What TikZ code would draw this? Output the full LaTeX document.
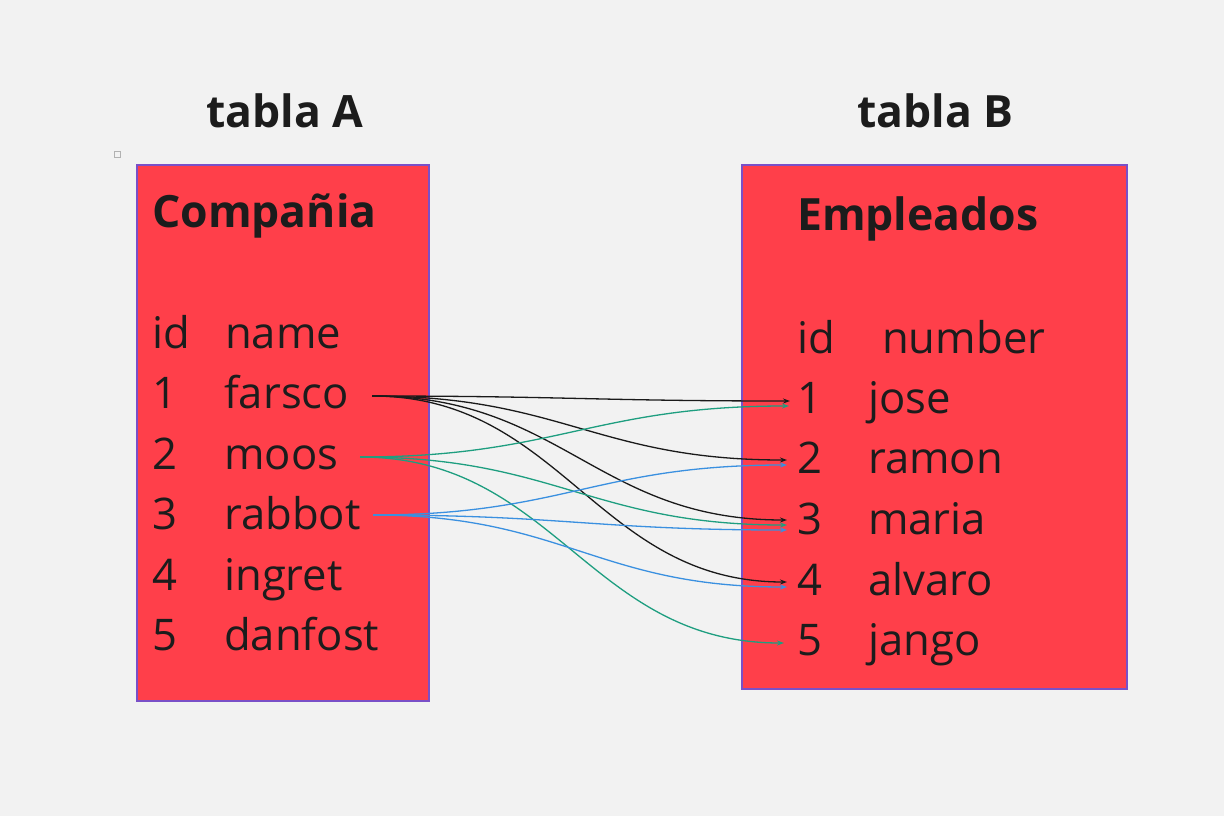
\documentclass[tikz,border=0pt]{standalone}
\usepackage{fontspec}
\setmainfont{Open Sans}
\usetikzlibrary{arrows.meta}
\definecolor{bg}{HTML}{F2F2F2}
\definecolor{boxred}{HTML}{FF3F4A}
\definecolor{boxedge}{HTML}{7A50C8}
\definecolor{ink}{HTML}{1C1C1C}
\definecolor{lnblack}{HTML}{1A1A1A}
\definecolor{lngreen}{HTML}{1E9E80}
\definecolor{lnblue}{HTML}{3A90E0}
\tikzset{
  tbox/.style={draw=boxedge, line width=1.3pt, fill=boxred},
  title/.style={anchor=base west, inner sep=0pt, text=ink, font=\fontsize{44.5}{50}\selectfont\bfseries},
  cell/.style={anchor=base west, inner sep=0pt, text=ink, font=\fontsize{43.6}{48}\selectfont},
  link/.style={line width=1.3pt, -{Stealth[length=7pt,width=5pt]}},
  kblack/.style={link, draw=lnblack},
  kgreen/.style={link, draw=lngreen},
  kblue/.style={link, draw=lnblue},
}
\begin{document}
\begin{tikzpicture}[x=1pt,y=-1pt]
\useasboundingbox[fill=bg] (0,0) rectangle (1224,816);
% tiny marker square
\draw[draw=gray!60, line width=1pt, fill=bg] (114.5,151.5) rectangle (120.5,157.5);
% boxes
\draw[tbox] (137,165) rectangle (429,701);
\draw[tbox] (742,165) rectangle (1127,689);
% titles
\node[title] (tA) at (206,128) {tabla A};
\node[title] (tB) at (857,128) {tabla B};
\node[title] (hA) at (152,227) {Compañia};
\node[title] (hB) at (797,230) {Empleados};
% left table
\node[cell] (aid) at (152,348) {id};
\node[cell] (aname) at (225,348) {name};
\node[cell] (a1) at (152,408) {1};
\node[cell] (farsco) at (224,408) {farsco};
\node[cell] (a2) at (152,469) {2};
\node[cell] (moos) at (224,469) {moos};
\node[cell] (a3) at (152,529) {3};
\node[cell] (rabbot) at (224,529) {rabbot};
\node[cell] (a4) at (152,590) {4};
\node[cell] (ingret) at (224,590) {ingret};
\node[cell] (a5) at (152,650) {5};
\node[cell] (danfost) at (224,650) {danfost};
% right table
\node[cell] (bid) at (797,353) {id};
\node[cell] (bnum) at (882,353) {number};
\node[cell] (b1) at (797,413) {1};
\node[cell] (jose) at (868,413) {jose};
\node[cell] (b2) at (797,473) {2};
\node[cell] (ramon) at (868,473) {ramon};
\node[cell] (b3) at (797,534) {3};
\node[cell] (maria) at (868,534) {maria};
\node[cell] (b4) at (797,595) {4};
\node[cell] (alvaro) at (868,595) {alvaro};
\node[cell] (b5) at (797,655) {5};
\node[cell] (jango) at (868,655) {jango};
% connector anchor points
\coordinate (sF) at (372,396);
\coordinate (sM) at (360,457);
\coordinate (sR) at (373,515);
\coordinate (eF1) at (790,401);
\coordinate (eF2) at (787,460);
\coordinate (eF3) at (787,520);
\coordinate (eF4) at (787,582);
\coordinate (eM1) at (789,406);
\coordinate (eM3) at (787,525);
\coordinate (eM5) at (784,643);
\coordinate (eR2) at (787,465);
\coordinate (eR3) at (787,530);
\coordinate (eR4) at (787,587);
% connectors
\draw[kblack] (sF) .. controls +(190,0) and +(-190,0) .. (eF1);
\draw[kblack] (sF) .. controls +(190,0) and +(-190,0) .. (eF2);
\draw[kblack] (sF) .. controls +(190,0) and +(-190,0) .. (eF3);
\draw[kblack] (sF) .. controls +(190,0) and +(-190,0) .. (eF4);
\draw[kgreen] (sM) .. controls +(195,0) and +(-195,0) .. (eM1);
\draw[kgreen] (sM) .. controls +(195,0) and +(-195,0) .. (eM3);
\draw[kgreen] (sM) .. controls +(195,0) and +(-195,0) .. (eM5);
\draw[kblue] (sR) .. controls +(190,0) and +(-190,0) .. (eR2);
\draw[kblue] (sR) .. controls +(190,0) and +(-190,0) .. (eR3);
\draw[kblue] (sR) .. controls +(190,0) and +(-190,0) .. (eR4);
\end{tikzpicture}
\end{document}
